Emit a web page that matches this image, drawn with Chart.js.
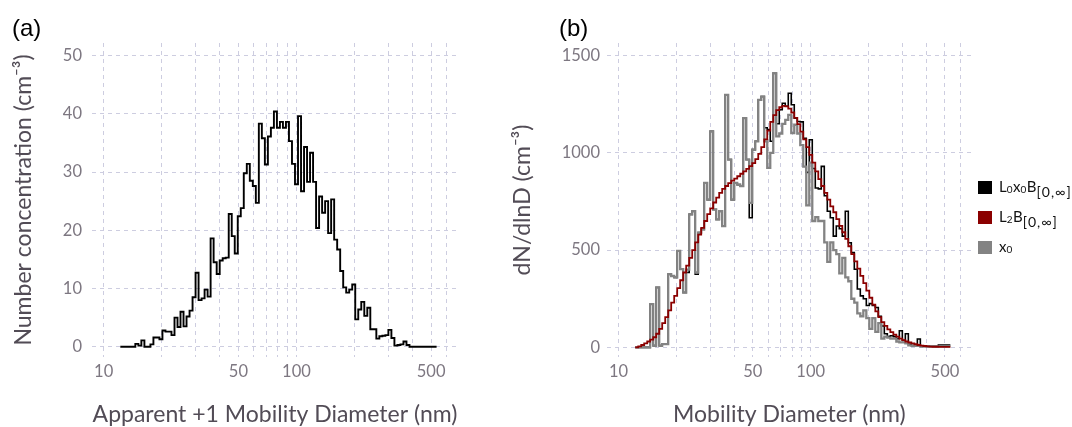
<!DOCTYPE html>
<html>
<head>
<meta charset="utf-8">
<style>
  html, body { margin: 0; padding: 0; background: #fff; }
  #wrap { position: relative; width: 1072px; height: 427px; overflow: hidden; }
  #boxA { position: absolute; left: 0; top: 0; width: 500px; height: 427px; }
  #boxB { position: absolute; left: 500px; top: 0; width: 572px; height: 427px; }
  #legend { position: absolute; left: 978px; top: 176px; font-family: Lato, sans-serif; font-size: 15px; color: #111; }
  .item { position: relative; height: 30px; width: 94px; }
  .sw { position: absolute; left: 0; top: 5px; width: 14px; height: 13px; }
  .lbl { position: absolute; left: 21px; top: 0px; white-space: nowrap; line-height: 20px; }
  .lbl sub { font-size: 14px; vertical-align: -5px; line-height: 0; letter-spacing: 1px; }
  .lbl sub.s0 { font-size: 10px; vertical-align: -1px; letter-spacing: 0.5px; }
</style>
</head>
<body>
<div id="wrap">
  <div id="boxA"><canvas id="chartA"></canvas></div>
  <div id="boxB"><canvas id="chartB"></canvas></div>
  <div id="legend"></div>
</div>
<script src="https://cdn.jsdelivr.net/npm/chart.js"></script>
<script>
    // mobility diameter bins (nm), 64 channels per decade
    const diameter = [12.20, 12.65, 13.11, 13.59, 14.09, 14.60, 15.14, 15.69, 16.27, 16.86,
        17.48, 18.12, 18.78, 19.47, 20.18, 20.92, 21.69, 22.48, 23.31, 24.16,
        25.04, 25.96, 26.91, 27.90, 28.92, 29.98, 31.07, 32.21, 33.39, 34.61,
        35.88, 37.19, 38.58, 39.99, 41.45, 42.97, 44.55, 46.18, 47.87, 49.62,
        51.44, 53.32, 55.28, 57.30, 59.40, 61.58, 63.83, 66.17, 68.60, 71.11,
        73.72, 76.42, 79.22, 82.12, 85.13, 88.25, 91.48, 94.84, 98.31, 101.91,
        105.65, 109.52, 113.53, 117.69, 122.00, 126.47, 131.10, 135.91, 140.89, 146.05,
        151.40, 156.95, 162.70, 168.66, 174.84, 181.25, 187.89, 194.78, 201.91, 209.31,
        216.98, 224.93, 233.17, 241.72, 250.58, 259.76, 269.27, 279.14, 289.37, 299.97,
        310.96, 322.36, 334.17, 346.42, 359.11, 372.27, 385.91, 400.05, 414.71, 429.91,
        445.66, 461.99, 478.92, 496.47, 514.66, 533.52];

    // (a) number concentration (cm-3)
    const numberConc = [0, 0, 0, 0, 0, 0.5, 0.2, 1.1, 0, 0,
        0.4, 1.6, 1.6, 1.3, 2.8, 2.6, 2.6, 2.0, 5.0, 3.4,
        6.0, 3.5, 5.2, 6.2, 8.5, 12.7, 8.0, 8.3, 9.8, 8.6,
        18.6, 14.5, 12.5, 14.8, 15.2, 15.3, 22.8, 19.0, 16.0, 22.4,
        23.8, 29.8, 31.4, 28.5, 27.6, 24.7, 38.3, 35.8, 31.3, 36.1,
        37.6, 40.4, 37.6, 38.6, 37.6, 38.6, 35.3, 31.4, 27.9, 39.6,
        26.7, 34.3, 28.3, 33.3, 28.3, 20.4, 25.8, 23.0, 25.0, 19.5,
        25.3, 18.4, 16.7, 13.0, 10.2, 9.3, 9.8, 10.7, 4.7, 6.4,
        7.7, 5.3, 6.7, 3.0, 3.0, 1.4, 1.8, 1.9, 2.0, 2.9,
        1.5, 0.2, 0.3, 0.4, 0.9, 0.3, 0, 0, 0, 0,
        0, 0, 0, 0, 0, 0];

    // (b) dN/dlnD (cm-3)
    const dnL0x0B = [0, 0, 0, 0, 0, 222, 9, 308, 9, 17,
        17, 376, 367, 360, 496, 402, 282, 385, 684, 700,
        376, 590, 607, 846, 760, 1111, 709, 658, 700, 624,
        1299, 966, 760, 846, 837, 829, 1179, 966, 667, 1017,
        1060, 1273, 1290, 1130, 1120, 1060, 1410, 1150, 1222, 1256,
        1240, 1307, 1248, 1179, 1162, 1160, 1075, 900, 1068, 920,
        820, 815, 931, 780, 700, 667, 572, 624, 610, 572,
        700, 538, 487, 402, 300, 265, 250, 215, 225, 215,
        205, 160, 110, 70, 55, 60, 55, 45, 85, 35,
        70, 15, 9, 9, 43, 5, 5, 5, 5, 5,
        5, 12, 12, 12, 12, 12];
    const dnL2B = [0, 5, 12, 20, 30, 40, 52, 70, 95, 125,
        155, 190, 230, 265, 305, 345, 385, 420, 460, 500,
        540, 580, 615, 650, 685, 715, 745, 770, 795, 815,
        830, 845, 858, 868, 880, 893, 905, 918, 932, 948,
        968, 995, 1030, 1070, 1115, 1160, 1195, 1220, 1235, 1242,
        1240, 1228, 1208, 1180, 1148, 1110, 1070, 1030, 990, 950,
        905, 865, 830, 795, 760, 725, 695, 660, 625, 592,
        558, 520, 480, 442, 405, 368, 330, 292, 255, 220,
        185, 155, 130, 110, 92, 78, 65, 55, 45, 37,
        30, 25, 20, 16, 12, 9, 7, 5, 4, 3,
        3, 2, 2, 2, 2, 2];
    const dnX0 = [0, 0, 0, 0, 0, 222, 9, 308, 9, 17,
        17, 376, 367, 360, 496, 402, 282, 400, 684, 700,
        385, 590, 607, 846, 760, 1111, 709, 658, 700, 624,
        1299, 966, 760, 846, 837, 829, 1179, 966, 743, 1017,
        1060, 1273, 1290, 1060, 923, 1000, 1410, 1085, 1100, 1150,
        1170, 1196, 1102, 1145, 1100, 1040, 930, 730, 950, 650,
        670, 650, 650, 540, 440, 540, 500, 480, 380, 460,
        360, 340, 250, 230, 175, 160, 190, 150, 95, 150,
        80, 125, 45, 55, 50, 45, 45, 30, 26, 26,
        20, 10, 9, 8, 8, 6, 5, 5, 5, 5,
        5, 5, 5, 5, 5, 5];

    const xGrid = [10, 20, 30, 40, 50, 60, 70, 80, 90, 100, 200, 300, 400, 500, 600];
    const xLabels = [10, 50, 100, 500];
    const yTicksA = [0, 10, 20, 30, 40, 50];
    const yTicksB = [0, 500, 1000, 1500];

    const gridColor = '#cdcde0';
    const tickColor = '#7d7781';
    const titleColor = '#524c56';
    const tickFont = { family: 'Lato', size: 16.5 };
    const titleFont = { family: 'Lato', size: 23, lineHeight: 1 };

    function points(vals) {
        return diameter.map((d, i) => ({ x: d, y: vals[i] }));
    }

    // "(a)" / "(b)" panel tags
    const panelTag = {
        id: 'panelTag',
        afterDraw(chart, args, opts) {
            const ctx = chart.ctx;
            ctx.save();
            ctx.font = '24px "Liberation Sans", Arial, sans-serif';
            ctx.fillStyle = '#000';
            ctx.textBaseline = 'alphabetic';
            ctx.fillText(opts.text, opts.x, opts.y);
            ctx.restore();
        }
    };

    function scales(yMin, yMax, yTicks, xTitle, yTitle, yWidth, yPad) {
        return {
            x: {
                type: 'logarithmic',
                min: 8.7,
                max: 689,
                afterBuildTicks: s => { s.ticks = xGrid.map(v => ({ value: v })); },
                afterFit: s => { s.height = 69; },
                ticks: {
                    autoSkip: false, maxRotation: 0, padding: 5,
                    color: tickColor, font: tickFont,
                    callback: v => xLabels.includes(v) ? String(v) : ''
                },
                grid: { color: gridColor, lineWidth: 1, drawTicks: false },
                border: { display: false, dash: [4, 4] },
                title: { display: true, text: xTitle, color: titleColor, font: titleFont, padding: { top: 0, bottom: 0 } }
            },
            y: {
                min: yMin,
                max: yMax,
                afterBuildTicks: s => { s.ticks = yTicks.map(v => ({ value: v })); },
                afterFit: s => { s.width = yWidth; },
                ticks: { padding: yPad, color: tickColor, font: tickFont, callback: v => String(v) },
                grid: { color: gridColor, lineWidth: 1, drawTicks: false },
                border: { display: false, dash: [4, 4] },
                title: { display: true, text: yTitle, color: titleColor, font: titleFont, padding: { top: 0, bottom: 0 } }
            }
        };
    }

    new Chart(document.getElementById('chartA'), {
        type: 'line',
        data: {
            datasets: [{
                label: 'Number concentration',
                data: points(numberConc),
                borderColor: '#000',
                borderWidth: 1.9,
                pointRadius: 0,
                stepped: 'before'
            }]
        },
        options: {
            responsive: true,
            maintainAspectRatio: false,
            animation: false,
            layout: { padding: { left: 12, top: 43, right: 42, bottom: 1 } },
            plugins: {
                legend: { display: false },
                tooltip: { enabled: false },
                panelTag: { text: '(a)', x: 12, y: 36 }
            },
            scales: scales(-1.76, 52.15, yTicksA, 'Apparent +1 Mobility Diameter (nm)',
                'Number concentration (cm\u207B\u00B3)', 80, 10)
        },
        plugins: [panelTag]
    });

    const seriesB = [
        { label: 'L2B', html: 'L<sub class="s0">2</sub>B<sub>[0,\u221E]</sub>', data: dnL2B, color: '#8b0000', width: 1.8 },
        { label: 'x0', html: 'x<sub class="s0">0</sub>', data: dnX0, color: '#838383', width: 2.3 },
        { label: 'L0x0B', html: 'L<sub class="s0">0</sub>x<sub class="s0">0</sub>B<sub>[0,\u221E]</sub>', data: dnL0x0B, color: '#000000', width: 1.6 }
    ];

    new Chart(document.getElementById('chartB'), {
        type: 'line',
        data: {
            datasets: seriesB.map(s => ({
                label: s.label,
                data: points(s.data),
                borderColor: s.color,
                borderWidth: s.width,
                pointRadius: 0,
                stepped: 'before'
            }))
        },
        options: {
            responsive: true,
            maintainAspectRatio: false,
            animation: false,
            layout: { padding: { left: 11, top: 43, right: 100.3, bottom: 1 } },
            plugins: {
                legend: { display: false },
                tooltip: { enabled: false },
                panelTag: { text: '(b)', x: 59, y: 36 }
            },
            scales: scales(-49.7, 1565.6, yTicksB, 'Mobility Diameter (nm)',
                'dN/dlnD (cm\u207B\u00B3)', 96, 7)
        },
        plugins: [panelTag]
    });

    // legend order as in the figure: black, red, grey
    const legend = document.getElementById('legend');
    for (const key of ['L0x0B', 'L2B', 'x0']) {
        const s = seriesB.find(d => d.label === key);
        const item = document.createElement('div');
        item.className = 'item';
        item.innerHTML = '<span class="sw" style="background:' + s.color + '"></span><span class="lbl">' + s.html + '</span>';
        legend.appendChild(item);
    }
</script>
</body>
</html>
